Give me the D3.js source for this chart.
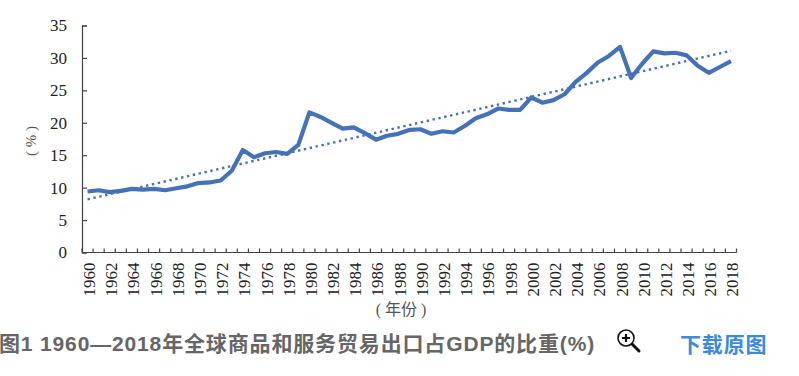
<!DOCTYPE html>
<html>
  <head>
    <title>图1 1960—2018年全球商品和服务贸易出口占GDP的比重(%)</title>
    <script src="https://d3js.org/d3.v7.min.js"></script>
    <style>
      body, html {
        margin: 0;
        width: 100%;
        height: 100%;
        overflow: hidden;
        background: #fff;
      }
      svg { display: block; }
      .axisText {
        font-family: 'Liberation Serif', 'Noto Sans CJK SC', serif;
        fill: #222;
      }
      .domain, .tick line {
        stroke: #444;
        stroke-width: 1.2px;
      }
      .caption {
        font-family: 'Liberation Sans', 'Noto Sans CJK SC', sans-serif;
        font-size: 21px;
        font-weight: bold;
        letter-spacing: 0.85px;
      }
    </style>
  </head>
  <body>
    <svg id="chart" width="799" height="376"></svg>
    <script>
      const years = d3.range(1960, 2019);
      const exportShare = [
        9.4, 9.6, 9.3, 9.5, 9.8, 9.7, 9.8, 9.6, 9.9, 10.2,
        10.7, 10.8, 11.1, 12.6, 15.8, 14.7, 15.3, 15.5, 15.2, 16.6,
        21.6, 20.9, 20.0, 19.1, 19.3, 18.4, 17.4, 18.0, 18.3, 18.9,
        19.0, 18.3, 18.7, 18.5, 19.5, 20.7, 21.3, 22.2, 22.0, 22.0,
        23.9, 23.1, 23.5, 24.4, 26.3, 27.7, 29.3, 30.3, 31.7, 26.9,
        29.1, 31.0, 30.7, 30.8, 30.4, 28.8, 27.7, 28.6, 29.5
      ];
      const trendYears = [1960, 2018];
      const trendValues = [8.2, 31.1];
      const yTicks = [0, 5, 10, 15, 20, 25, 30, 35];
      const xLabels = years.filter(y => y % 2 === 0);

      const svg = d3.select("#chart");
      const plotLeft = 82, plotRight = 736.5, plotTop = 25.5, plotBottom = 252.5;

      const x = d3.scaleBand().domain(years).range([plotLeft, plotRight]);
      const y = d3.scaleLinear().domain([0, 35]).range([plotBottom, plotTop]);
      const cx = yr => x(yr) + x.bandwidth() / 2;

      // y axis
      const yAxis = svg.append("g")
        .attr("transform", `translate(${plotLeft},0)`)
        .call(d3.axisLeft(y).tickValues(yTicks).tickSize(-5).tickPadding(15));
      yAxis.selectAll("text")
        .attr("class", "axisText")
        .style("font-size", "17px");

      // x axis, ticks sit on category boundaries and point up
      const xAxis = svg.append("g")
        .attr("transform", `translate(0,${plotBottom})`);
      xAxis.append("path")
        .attr("class", "domain")
        .attr("fill", "none")
        .attr("d", `M${plotLeft},0H${plotRight}`);
      xAxis.selectAll("line.boundary")
        .data(years.concat([2019]))
        .enter()
        .append("line")
        .attr("class", "boundary")
        .attr("stroke", "#444")
        .attr("stroke-width", 1.2)
        .attr("x1", d => d === 2019 ? plotRight : x(d))
        .attr("x2", d => d === 2019 ? plotRight : x(d))
        .attr("y1", 0)
        .attr("y2", -4);
      xAxis.selectAll("text")
        .data(xLabels)
        .enter()
        .append("text")
        .attr("class", "axisText")
        .style("font-size", "17px")
        .attr("text-anchor", "end")
        .attr("dominant-baseline", "central")
        .attr("transform", d => `translate(${cx(d) + 2},${10}) rotate(-90)`)
        .text(d => d);

      // axis titles
      svg.append("text")
        .attr("class", "axisText")
        .attr("transform", "translate(31,141) rotate(-90)")
        .attr("text-anchor", "middle")
        .attr("dominant-baseline", "central")
        .style("font-size", "15px")
        .style("fill", "#555")
        .text("( % )");
      svg.append("text")
        .attr("class", "axisText")
        .attr("x", 401)
        .attr("y", 315)
        .attr("text-anchor", "middle")
        .style("font-size", "16px")
        .style("fill", "#555")
        .text("( 年份 )");

      // trend line
      const trendLine = d3.line().x(d => cx(d[0])).y(d => y(d[1]));
      svg.append("path")
        .datum(d3.zip(trendYears, trendValues))
        .attr("fill", "none")
        .attr("stroke", "#4472b8")
        .attr("stroke-width", 2.4)
        .attr("stroke-dasharray", "2.4 3.6")
        .attr("d", trendLine);

      // main series
      const shareLine = d3.line().x(d => cx(d[0])).y(d => y(d[1]));
      svg.append("path")
        .datum(d3.zip(years, exportShare))
        .attr("fill", "none")
        .attr("stroke", "#4472b8")
        .attr("stroke-width", 4.2)
        .attr("stroke-linejoin", "round")
        .attr("d", shareLine);

      // caption row
      svg.append("text")
        .attr("class", "caption")
        .attr("x", -1)
        .attr("y", 351)
        .attr("fill", "#666")
        .text("图1 1960—2018年全球商品和服务贸易出口占GDP的比重(%)");
      svg.append("text")
        .attr("class", "caption")
        .attr("x", 680)
        .attr("y", 352)
        .attr("fill", "#3a8bdc")
        .text("下载原图");

      // magnifier icon
      const icon = svg.append("g").attr("transform", "translate(626,338)");
      icon.append("line")
        .attr("x1", 6).attr("y1", 6).attr("x2", 13).attr("y2", 13)
        .attr("stroke", "#111").attr("stroke-width", 3).attr("stroke-linecap", "round");
      icon.append("circle")
        .attr("r", 8).attr("fill", "#fff").attr("stroke", "#111").attr("stroke-width", 1.6);
      icon.append("path")
        .attr("d", "M-4,0H4M0,-4V4")
        .attr("stroke", "#111").attr("stroke-width", 2.2);
    </script>
  </body>
</html>
